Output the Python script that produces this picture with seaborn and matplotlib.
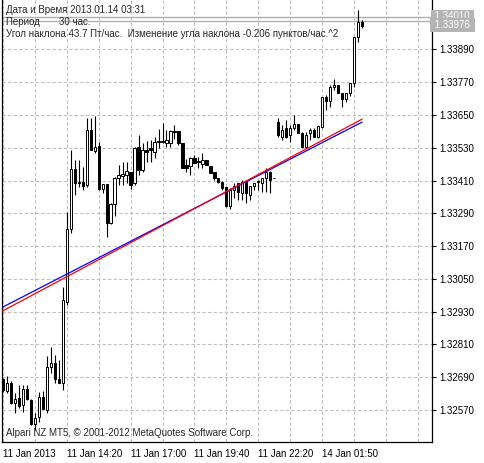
import numpy as np
import pandas as pd
import matplotlib
matplotlib.use("Agg")
import matplotlib.pyplot as plt
import seaborn as sns

# 10-minute candles, EURUSD-like quotes
opens = [1.32684, 1.32640, 1.32669, 1.32596, 1.32614, 1.32589, 1.32647, 1.32607, 1.32519, 1.32545,
         1.32618, 1.32570, 1.32728, 1.32742, 1.32684, 1.32669, 1.32966, 1.33233, 1.33452, 1.33405,
         1.33405, 1.33394, 1.33595, 1.33518, 1.33537, 1.33379, 1.33397, 1.33255, 1.33324, 1.33419,
         1.33427, 1.33430, 1.33441, 1.33401, 1.33533, 1.33449, 1.33522, 1.33529, 1.33515, 1.33555,
         1.33555, 1.33548, 1.33548, 1.33592, 1.33592, 1.33548, 1.33467, 1.33463, 1.33493, 1.33482,
         1.33471, 1.33485, 1.33463, 1.33441, 1.33419, 1.33405, 1.33387, 1.33317, 1.33375, 1.33401,
         1.33365, 1.33405, 1.33357, 1.33390, 1.33408, 1.33401, 1.33419, 1.33441, 1.33419, 1.33624,
         1.33570, 1.33603, 1.33577, 1.33603, 1.33617, 1.33584, 1.33533, 1.33584, 1.33595, 1.33570,
         1.33606, 1.33716, 1.33701, 1.33753, 1.33760, 1.33731, 1.33709, 1.33731, 1.33767, 1.33936,
         1.33990]
highs = [1.32688, 1.32695, 1.32677, 1.32633, 1.32662, 1.32662, 1.32662, 1.32611, 1.32559, 1.32636,
         1.32640, 1.32768, 1.32801, 1.32772, 1.32754, 1.33021, 1.33295, 1.33522, 1.33485, 1.33485,
         1.33460, 1.33639, 1.33639, 1.33646, 1.33551, 1.33397, 1.33397, 1.33328, 1.33423, 1.33467,
         1.33478, 1.33478, 1.33441, 1.33533, 1.33577, 1.33548, 1.33555, 1.33559, 1.33570, 1.33599,
         1.33621, 1.33595, 1.33595, 1.33614, 1.33592, 1.33548, 1.33489, 1.33496, 1.33504, 1.33496,
         1.33511, 1.33485, 1.33463, 1.33441, 1.33419, 1.33408, 1.33387, 1.33383, 1.33401, 1.33401,
         1.33412, 1.33412, 1.33390, 1.33401, 1.33412, 1.33419, 1.33456, 1.33445, 1.33419, 1.33639,
         1.33614, 1.33632, 1.33614, 1.33650, 1.33617, 1.33588, 1.33588, 1.33603, 1.33603, 1.33610,
         1.33716, 1.33723, 1.33760, 1.33782, 1.33760, 1.33731, 1.33731, 1.33767, 1.33936, 1.34034,
         1.33998]
lows = [1.32636, 1.32633, 1.32592, 1.32559, 1.32578, 1.32563, 1.32607, 1.32515, 1.32497, 1.32526,
        1.32574, 1.32559, 1.32706, 1.32669, 1.32669, 1.32644, 1.32955, 1.33218, 1.33357, 1.33387,
        1.33375, 1.33387, 1.33522, 1.33511, 1.33375, 1.33365, 1.33204, 1.33251, 1.33279, 1.33394,
        1.33394, 1.33401, 1.33379, 1.33394, 1.33430, 1.33441, 1.33478, 1.33478, 1.33493, 1.33529,
        1.33548, 1.33533, 1.33533, 1.33562, 1.33540, 1.33456, 1.33441, 1.33430, 1.33474, 1.33456,
        1.33456, 1.33467, 1.33438, 1.33412, 1.33401, 1.33375, 1.33313, 1.33306, 1.33346, 1.33339,
        1.33339, 1.33328, 1.33339, 1.33375, 1.33375, 1.33368, 1.33368, 1.33365, 1.33419, 1.33570,
        1.33559, 1.33566, 1.33551, 1.33595, 1.33584, 1.33529, 1.33529, 1.33559, 1.33570, 1.33566,
        1.33603, 1.33668, 1.33679, 1.33742, 1.33731, 1.33679, 1.33698, 1.33720, 1.33753, 1.33917,
        1.33969]
closes = [1.32644, 1.32669, 1.32596, 1.32611, 1.32585, 1.32647, 1.32611, 1.32519, 1.32541, 1.32618,
          1.32574, 1.32728, 1.32742, 1.32684, 1.32669, 1.32973, 1.33233, 1.33452, 1.33401, 1.33401,
          1.33390, 1.33595, 1.33522, 1.33533, 1.33379, 1.33397, 1.33255, 1.33324, 1.33419, 1.33430,
          1.33434, 1.33445, 1.33394, 1.33529, 1.33449, 1.33522, 1.33515, 1.33522, 1.33551, 1.33551,
          1.33551, 1.33559, 1.33592, 1.33588, 1.33548, 1.33456, 1.33456, 1.33493, 1.33474, 1.33478,
          1.33485, 1.33467, 1.33438, 1.33419, 1.33405, 1.33383, 1.33317, 1.33375, 1.33390, 1.33368,
          1.33405, 1.33365, 1.33390, 1.33401, 1.33405, 1.33419, 1.33441, 1.33412, 1.33419, 1.33577,
          1.33595, 1.33570, 1.33603, 1.33617, 1.33584, 1.33533, 1.33577, 1.33595, 1.33570, 1.33610,
          1.33716, 1.33701, 1.33753, 1.33760, 1.33731, 1.33709, 1.33731, 1.33767, 1.33936, 1.33990,
          1.33976]

# regression channel end points (bar 0 and last bar)
blue_line = [1.32947, 1.33624]
red_line = [1.32933, 1.33635]

price_ticks = [1.32570, 1.32690, 1.32810, 1.32930, 1.33050, 1.33170,
               1.33290, 1.33410, 1.33530, 1.33650, 1.33770, 1.33890]
time_labels = ["11 Jan 2013", "11 Jan 14:20", "11 Jan 17:00",
               "11 Jan 19:40", "11 Jan 22:20", "14 Jan 01:50"]

sns.set_style("white")
plt.rcParams["font.family"] = ["Liberation Sans", "DejaVu Sans"]
FS = 7

fig = plt.figure(figsize=(4.85, 4.63), dpi=100)
ax = fig.add_axes([2 / 485, 1 - 442 / 463, 430 / 485, 442 / 463])

df = pd.DataFrame({"open": opens, "high": highs, "low": lows, "close": closes})
df["bar"] = np.arange(len(df))
df["bottom"] = df[["open", "close"]].min(axis=1)
df["height"] = (df["close"] - df["open"]).abs().clip(lower=0.000015)
df["fill"] = np.where(df["close"] >= df["open"], "white", "black")

# grid
for k in range(0, 112, 8):
    ax.axvline(k, color="#c0c0c0", ls=(0, (3, 2)), lw=0.8, zorder=0)
for p in price_ticks + [1.34010]:
    ax.axhline(p, color="#c0c0c0", ls=(0, (3, 2)), lw=0.8, zorder=0)

# candles
ax.vlines(df["bar"], df["low"], df["high"], color="black", lw=0.8, zorder=2)
ax.bar(df["bar"], df["height"], bottom=df["bottom"], width=0.55,
       color=df["fill"], edgecolor="black", lw=0.7, zorder=3)

# regression lines
last = len(df) - 1
lines = pd.DataFrame({"bar": [0, last, 0, last],
                      "price": blue_line + red_line,
                      "line": ["blue", "blue", "red", "red"]})
sns.lineplot(data=lines, x="bar", y="price", hue="line",
             palette={"blue": "#0000ff", "red": "#ff0000"},
             lw=0.9, legend=False, ax=ax, zorder=4)

# bid/ask lines
ax.axhline(1.34010, color="#b0b0b0", lw=1.0, zorder=1)
ax.axhline(1.33994, color="#b0b0b0", lw=1.0, zorder=1)

ax.set_xlim(-0.2, 107.5)
ax.set_ylim(1.32453, 1.34071)
ax.yaxis.tick_right()
ax.set_yticks(price_ticks)
ax.set_yticklabels([f"{p:.5f}" for p in price_ticks], fontsize=FS)
ax.set_xticks([0, 16, 32, 48, 64, 80])
ax.set_xticklabels(time_labels, fontsize=FS, ha="left")
ax.tick_params(axis="both", length=3, width=0.8, pad=2, colors="black")
ax.set_xlabel("")
ax.set_ylabel("")
for s in ax.spines.values():
    s.set_color("black")
    s.set_linewidth(0.9)
ax.spines["top"].set_visible(False)

# current price boxes
ax.text(1.0, 1.34012, " 1.34010 ", transform=ax.get_yaxis_transform(),
        fontsize=FS, color="white", va="center", ha="left",
        bbox=dict(fc="#b4b4b4", ec="none", pad=1))
ax.text(1.0, 1.33981, " 1.33976 ", transform=ax.get_yaxis_transform(),
        fontsize=FS, color="white", va="center", ha="left",
        bbox=dict(fc="#b4b4b4", ec="none", pad=1.5))

ax.text(0.01, 0.988, "Дата и Время 2013.01.14 03:31", transform=ax.transAxes,
        fontsize=FS, va="top")
ax.text(0.01, 0.961, "Период       30 час.", transform=ax.transAxes,
        fontsize=FS, va="top")
ax.text(0.01, 0.934, "Угол наклона 43.7 Пт/час.  Изменение угла наклона -0.206 пунктов/час.^2",
        transform=ax.transAxes, fontsize=FS, va="top")
ax.text(0.01, 0.008, "Alpari NZ MT5, © 2001-2012 MetaQuotes Software Corp.",
        transform=ax.transAxes, fontsize=FS, va="bottom")

fig.savefig("out.png", dpi=100)
